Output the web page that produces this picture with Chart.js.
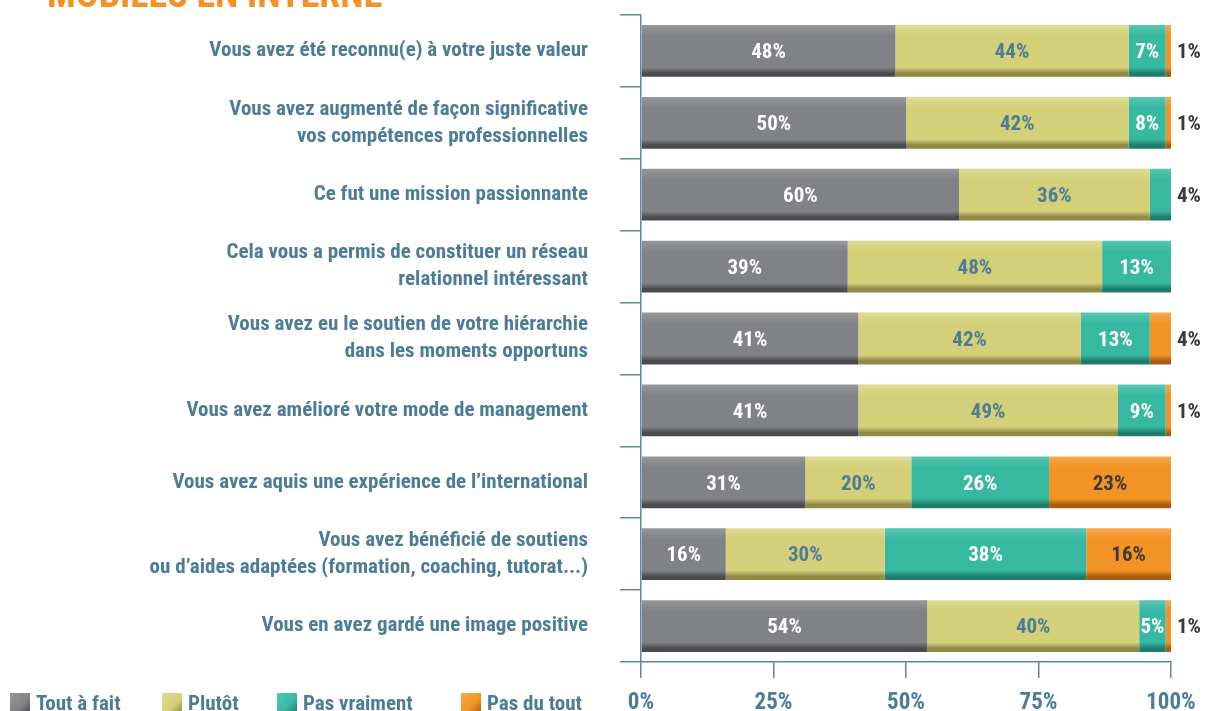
<!DOCTYPE html>
<html lang="fr">
<head>
<meta charset="utf-8">
<title>Mobiles en interne</title>
<script src="https://cdn.jsdelivr.net/npm/chart.js@4.4.1/dist/chart.umd.min.js"></script>
<style>
  html, body { margin: 0; padding: 0; background: #fff; overflow: hidden; }
  #wrap { position: relative; width: 1206px; height: 711px; }
  #title {
    position: absolute; left: 47px; top: -28px;
    font: bold condensed 38px Roboto, sans-serif;
    color: #f39325; white-space: nowrap;
  }
  .leg {
    position: absolute; top: 691px; display: flex; align-items: center;
    font: bold condensed 21px Roboto, sans-serif;
    color: #4d7c96; white-space: nowrap;
  }
  .leg i { display: inline-block; width: 20px; height: 20px; margin-right: 6px; }
</style>
</head>
<body>
<div id="wrap">
  <div id="title">MOBILES EN INTERNE</div>
  <canvas id="chart" width="1206" height="711"></canvas>
  <div id="legend"></div>
</div>
<script>
const fontFamily = 'Roboto, sans-serif';
const axisBlue = '#4d7c96';

const categories = [
    'Vous avez été reconnu(e) à votre juste valeur',
    ['Vous avez augmenté de façon significative', 'vos compétences professionnelles'],
    'Ce fut une mission passionnante',
    ['Cela vous a permis de constituer un réseau', 'relationnel intéressant'],
    ['Vous avez eu le soutien de votre hiérarchie', 'dans les moments opportuns'],
    'Vous avez amélioré votre mode de management',
    'Vous avez aquis une expérience de l’international',
    ['Vous avez bénéficié de soutiens', 'ou d’aides adaptées (formation, coaching, tutorat...)'],
    'Vous en avez gardé une image positive'
];

const seriesNames = ['Tout à fait', 'Plutôt', 'Pas vraiment', 'Pas du tout'];
const toutAFait   = [48, 50, 60, 39, 41, 41, 31, 16, 54];
const plutot      = [44, 42, 36, 48, 42, 49, 20, 30, 40];
const pasVraiment = [7, 7, 4, 13, 13, 9, 26, 38, 5];
const pasDuTout   = [1, 1, 0, 0, 4, 1, 23, 16, 1];

// the printed label of row 2 reads "8%"
const textOverride = { 2: { 1: '8%' } };

const xTicks = [0, 25, 50, 75, 100];

// base / light / dark tone per series
const tones = [
    ['#808285', '#95979a', '#4a4b4d'],
    ['#d4cf79', '#dedb94', '#8f8a45'],
    ['#37b8a1', '#57c7b3', '#1f7c6b'],
    ['#f39325', '#f6a94e', '#a85e10']
];
const textColors = ['#ffffff', axisBlue, '#ffffff', '#3d3a36'];
const outsideColor = '#3d3a36';
const barPct = 0.72;

function barFill(tone) {
    return (c) => {
        const chart = c.chart;
        if (!chart.chartArea || c.type !== 'data') return tone[0];
        const area = chart.chartArea;
        const band = (area.bottom - area.top) / categories.length;
        const y = chart.scales.y.getPixelForValue(c.dataIndex);
        const half = band * barPct / 2;
        const g = chart.ctx.createLinearGradient(0, y - half, 0, y + half);
        g.addColorStop(0, tone[1]);
        g.addColorStop(0.2, tone[0]);
        g.addColorStop(0.82, tone[0]);
        g.addColorStop(0.93, tone[2]);
        g.addColorStop(1, tone[2]);
        return g;
    };
}

const valueLabels = {
    id: 'valueLabels',
    afterDatasetsDraw(chart) {
        const ctx = chart.ctx;
        ctx.save();
        ctx.font = 'bold condensed 21px ' + fontFamily;
        ctx.textBaseline = 'middle';
        chart.data.datasets.forEach((ds, di) => {
            chart.getDatasetMeta(di).data.forEach((bar, i) => {
                const v = ds.data[i];
                if (!v) return;
                const txt = (textOverride[di] && textOverride[di][i]) || (v + '%');
                if (v <= 4) {
                    ctx.textAlign = 'left';
                    ctx.fillStyle = outsideColor;
                    ctx.fillText(txt, chart.chartArea.right + 6, bar.y + 2);
                } else {
                    ctx.textAlign = 'center';
                    ctx.fillStyle = textColors[di];
                    ctx.fillText(txt, (bar.x + bar.base) / 2, bar.y + 2);
                }
            });
        });
        ctx.restore();
    }
};

const seriesValues = [toutAFait, plutot, pasVraiment, pasDuTout];

new Chart(document.getElementById('chart'), {
    type: 'bar',
    data: {
        labels: categories,
        datasets: seriesNames.map((name, i) => ({
            label: name,
            data: seriesValues[i],
            backgroundColor: barFill(tones[i]),
            borderWidth: 0,
            barPercentage: barPct,
            categoryPercentage: 1
        }))
    },
    options: {
        indexAxis: 'y',
        responsive: false,
        animation: false,
        layout: { padding: { top: 15, right: 35, left: 0, bottom: 0 } },
        plugins: { legend: { display: false }, tooltip: { enabled: false } },
        scales: {
            x: {
                stacked: true,
                min: 0,
                max: 100,
                afterBuildTicks: (scale) => { scale.ticks = xTicks.map(v => ({ value: v })); },
                afterFit: (scale) => { scale.height = 49; scale.paddingLeft = 0; scale.paddingRight = 0; },
                ticks: {
                    callback: (v) => v + '%',
                    color: axisBlue,
                    font: { family: fontFamily, size: 23, weight: 'bold condensed' },
                    padding: 11,
                    maxRotation: 0
                },
                grid: { drawOnChartArea: false, tickLength: 16, color: '#5b87a0', lineWidth: 1.5 },
                border: { color: '#5b87a0', width: 1.5 }
            },
            y: {
                stacked: true,
                afterFit: (scale) => { scale.width = 641; scale.paddingTop = 0; scale.paddingBottom = 0; },
                ticks: {
                    color: axisBlue,
                    font: { family: fontFamily, size: 21, weight: 'bold condensed', lineHeight: 1.29 },
                    padding: 32
                },
                grid: { drawOnChartArea: false, tickLength: 21, color: '#5b87a0', lineWidth: 1.5, offset: true },
                border: { color: '#5b87a0', width: 1.5 }
            }
        }
    },
    plugins: [valueLabels]
});

// legend drawn as html under the chart, using the same tones
const legendLeft = [10, 162, 277, 461];
const legend = document.getElementById('legend');
seriesNames.forEach((name, i) => {
    const item = document.createElement('div');
    item.className = 'leg';
    item.style.left = legendLeft[i] + 'px';
    item.innerHTML = `<i style="background:linear-gradient(135deg, ${tones[i][1]}, ${tones[i][0]} 60%, ${tones[i][2]})"></i>${name}`;
    legend.appendChild(item);
});
</script>
</body>
</html>
